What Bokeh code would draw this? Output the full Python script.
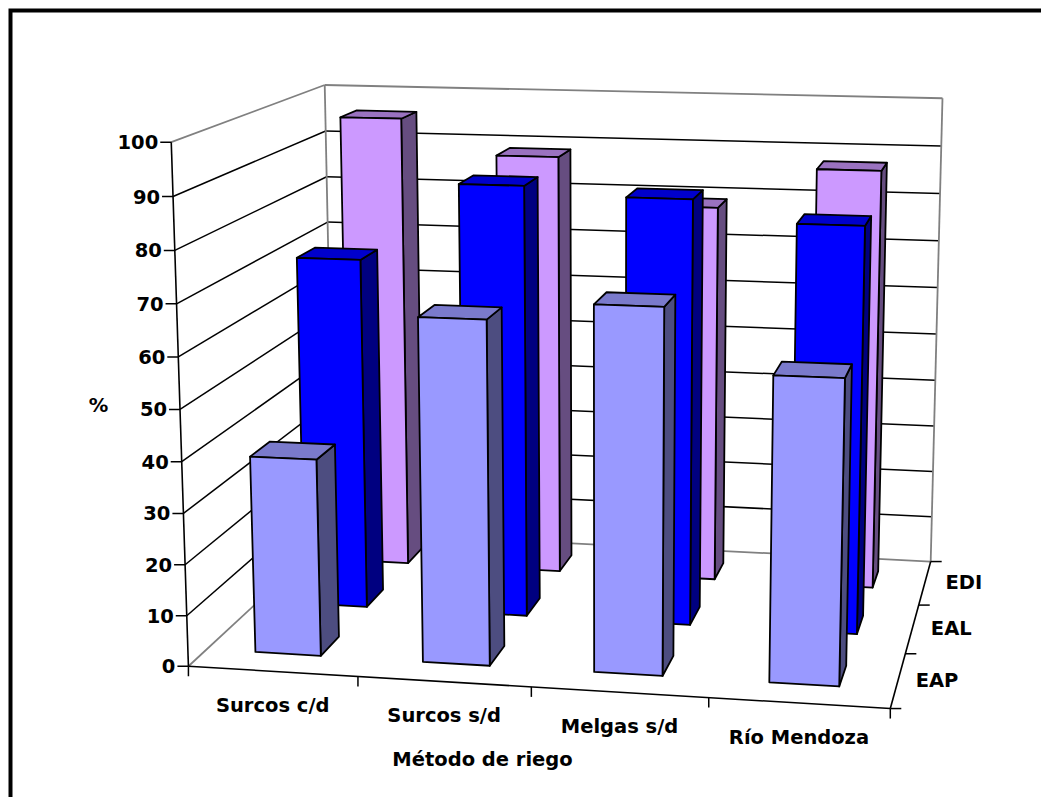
import numpy as np
from bokeh.embed import file_html
from bokeh.models import ColumnDataSource
from bokeh.plotting import figure
from bokeh.resources import INLINE
from bokeh.core.properties import value

# Irrigation efficiency by method and indicator
categories = ["Surcos c/d", "Surcos s/d", "Melgas s/d", "Río Mendoza"]
series_names = ["EAP", "EAL", "EDI"]
eap = [38.8, 67, 70.6, 58.6]
eal = [71.6, 87.3, 85.6, 81.4]
edi = [95.8, 88.6, 79, 87.5]
z_ticks = [0, 10, 20, 30, 40, 50, 60, 70, 80, 90, 100]

front_colors = ["#9999FF", "#0000FF", "#CC99FF"]
side_colors = ["#4D4D80", "#000080", "#664D80"]
top_colors = ["#7A7ACC", "#0000CC", "#9A72C0"]

WIDTH, HEIGHT = 1041, 797
FONT = value("DejaVu Sans")
BAR_W, BAR_D = 0.393, 0.38

# Perspective camera fitted to the box corners (category, depth, percent -> page)
box = [
    ((0, 0, 0), (187.5, 664.5)),
    ((4, 0, 0), (890, 709)),
    ((4, 3, 0), (930, 560)),
    ((0, 3, 0), (334, 532)),
    ((0, 0, 100), (171, 142)),
    ((0, 3, 100), (324, 84)),
    ((4, 3, 100), (942, 98)),
]
rows, rhs = [], []
for (X, Y, Z), (u, v) in box:
    rows.append([X, Y, Z, 1, 0, 0, 0, 0, -u * X, -u * Y, -u * Z])
    rhs.append(u)
    rows.append([0, 0, 0, 0, X, Y, Z, 1, -v * X, -v * Y, -v * Z])
    rhs.append(v)
cam = np.append(np.linalg.lstsq(np.array(rows, float), np.array(rhs, float), rcond=None)[0], 1).reshape(3, 4)


def project(X, Y, Z):
    u, v, w = cam @ np.array([X, Y, Z, 1.0])
    return u / w, v / w


p = figure(width=WIDTH, height=HEIGHT, x_range=(0, WIDTH), y_range=(HEIGHT, 0),
           output_backend="svg", toolbar_location=None, min_border=0,
           outline_line_color=None, background_fill_color="white")
p.axis.visible = False
p.grid.visible = False


def segments(pairs, color, width):
    xs, ys = [], []
    for a, b in pairs:
        (x0, y0), (x1, y1) = project(*a), project(*b)
        xs.append([x0, x1])
        ys.append([y0, y1])
    p.multi_line(xs, ys, line_color=color, line_width=width)


# Walls: percent gridlines, then the lighter box edges
inner = z_ticks[1:-1]
segments([((0, 0, z), (0, 3, z)) for z in inner] + [((0, 3, z), (4, 3, z)) for z in inner], "black", 1.5)
segments([((0, 0, 100), (0, 3, 100)), ((0, 3, 100), (4, 3, 100)), ((0, 3, 0), (0, 3, 100)),
          ((4, 3, 0), (4, 3, 100)), ((0, 0, 0), (0, 3, 0)), ((0, 3, 0), (4, 3, 0))], "#808080", 1.8)

# Bars, back row first
faces = dict(xs=[], ys=[], color=[])


def add_face(corners, color):
    pts = [project(*c) for c in corners]
    faces["xs"].append([q[0] for q in pts])
    faces["ys"].append([q[1] for q in pts])
    faces["color"].append(color)


rows_by_series = [eap, eal, edi]
for s in (2, 1, 0):
    for i in range(len(categories) - 1, -1, -1):
        h = rows_by_series[s][i]
        x0, x1 = i + 0.49 - BAR_W / 2, i + 0.49 + BAR_W / 2
        y0, y1 = s + 0.52 - BAR_D / 2, s + 0.52 + BAR_D / 2
        add_face([(x1, y0, 0), (x1, y1, 0), (x1, y1, h), (x1, y0, h)], side_colors[s])
        add_face([(x0, y0, h), (x1, y0, h), (x1, y1, h), (x0, y1, h)], top_colors[s])
        add_face([(x0, y0, 0), (x1, y0, 0), (x1, y0, h), (x0, y0, h)], front_colors[s])
p.patches("xs", "ys", source=ColumnDataSource(faces), fill_color="color",
          line_color="black", line_width=1.8, line_join="round")

# Axis lines and tick marks
segments([((0, 0, 0), (0, 0, 100)), ((0, 0, 0), (4, 0, 0)), ((4, 0, 0), (4, 3, 0))], "black", 1.6)
tx, ty = [], []
for z in z_ticks:
    u, v = project(0, 0, z)
    tx.append([u - 11, u])
    ty.append([v, v])
for i in range(len(categories) + 1):
    u, v = project(i, 0, 0)
    tx.append([u, u])
    ty.append([v, v + 10])
for s in range(len(series_names) + 1):
    u, v = project(4, s, 0)
    tx.append([u, u + 11])
    ty.append([v, v])
p.multi_line(tx, ty, line_color="black", line_width=1.5)

text_style = dict(text_font=FONT, text_font_style="bold", text_font_size="19.5px",
                  text_color="black", text_baseline="middle")

zx, zy = zip(*[project(0, 0, z) for z in z_ticks])
p.text(x=zx, y=zy, text=[str(z) for z in z_ticks], x_offset=-13, text_align="right", **text_style)

cx, cy = zip(*[project(i + 0.5, 0, 0) for i in range(len(categories))])
p.text(x=cx, y=cy, text=categories, y_offset=34, text_align="center", **text_style)

sx, sy = zip(*[project(4, s + 0.5, 0) for s in range(len(series_names))])
p.text(x=sx, y=sy, text=series_names, x_offset=39, text_align="center", **text_style)

p.text(x=[482], y=[759], text=["Método de riego"], text_align="center", **text_style)
p.text(x=[98], y=[405], text=["%"], text_align="center", **text_style)

# Page frame along the top and left edges only
p.line([10, 10, WIDTH], [HEIGHT, 10, 10], line_color="black", line_width=4, line_join="miter")

open("out.html", "w").write(file_html(p, INLINE))
